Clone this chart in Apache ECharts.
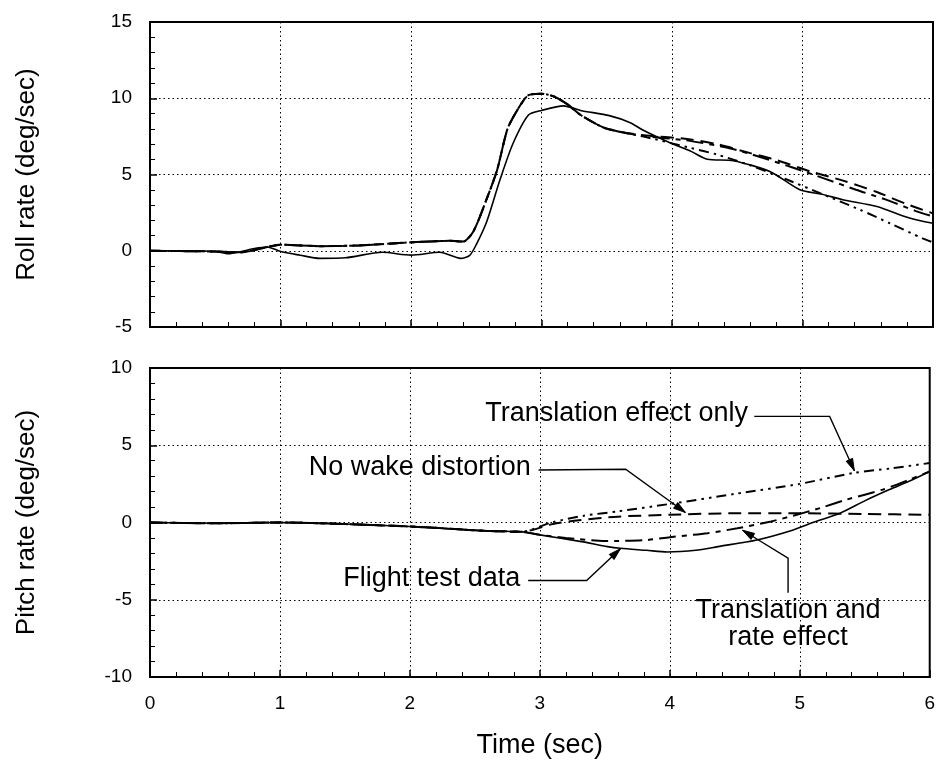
<!DOCTYPE html>
<html>
<head>
<meta charset="utf-8">
<script src="https://cdn.jsdelivr.net/npm/echarts@6/dist/echarts.min.js"></script>
<style>
  html, body { margin: 0; padding: 0; background: #fff; }
  #chart { width: 938px; height: 765px; }
</style>
</head>
<body>
<div id="chart"></div>
<script>
// ---- Roll rate (deg/sec) vs time (sec) ----
const rollFlightTime = [0, 0.3, 0.5, 0.6, 0.7, 0.8, 0.9, 1.0, 1.15, 1.3, 1.5, 1.78, 2.0, 2.22, 2.38, 2.45, 2.5, 2.58, 2.68, 2.78, 2.9, 3.0, 3.17, 3.3, 3.52, 3.68, 3.78, 3.98, 4.15, 4.27, 4.47, 4.75, 4.98, 5.15, 5.31, 5.57, 5.82, 6.0];
const rollFlight     = [0, 0, -0.05, -0.2, -0.05, 0.15, 0.25, -0.05, -0.29, -0.5, -0.46, -0.1, -0.29, -0.1, -0.5, -0.3, 0.4, 1.9, 4.6, 7.0, 8.9, 9.2, 9.5, 9.2, 8.86, 8.4, 7.9, 7.1, 6.5, 6.0, 5.9, 5.2, 4.0, 3.7, 3.35, 2.9, 2.15, 1.8];

const rollNoWakeTime = [0, 0.5, 0.7, 0.9, 1.0, 1.3, 1.6, 2.0, 2.3, 2.4, 2.48, 2.58, 2.66, 2.74, 2.82, 2.9, 3.0, 3.1, 3.2, 3.3, 3.47, 3.6, 3.8, 4.1, 4.34, 4.6, 4.8, 5.06, 5.31, 5.57, 5.8, 6.0];
const rollNoWake     = [0, -0.05, -0.1, 0.25, 0.4, 0.3, 0.35, 0.55, 0.65, 0.6, 1.3, 3.4, 5.3, 8.0, 9.3, 10.2, 10.3, 10.1, 9.6, 8.9, 8.1, 7.8, 7.55, 7.35, 7.0, 6.4, 5.95, 5.2, 4.6, 3.85, 3.05, 2.45];

const rollTransTime = [0, 0.5, 0.7, 0.9, 1.0, 1.3, 1.6, 2.0, 2.3, 2.4, 2.48, 2.58, 2.66, 2.74, 2.82, 2.9, 3.0, 3.1, 3.2, 3.3, 3.47, 3.6, 3.8, 4.14, 4.34, 4.6, 4.88, 5.13, 5.44, 5.67, 5.92, 6.0];
const rollTrans     = [0, -0.05, -0.1, 0.25, 0.4, 0.3, 0.35, 0.55, 0.65, 0.6, 1.3, 3.4, 5.3, 8.0, 9.3, 10.2, 10.3, 10.1, 9.6, 8.9, 8.1, 7.8, 7.45, 6.75, 6.32, 5.6, 4.67, 3.79, 2.69, 1.8, 0.81, 0.55];

const rollTransRateTime = [0, 0.5, 0.7, 0.9, 1.0, 1.3, 1.6, 2.0, 2.3, 2.4, 2.48, 2.58, 2.66, 2.74, 2.82, 2.9, 3.0, 3.1, 3.2, 3.3, 3.47, 3.6, 3.8, 4.1, 4.4, 4.6, 4.93, 5.18, 5.41, 5.64, 5.87, 6.0];
const rollTransRate     = [0, -0.05, -0.1, 0.25, 0.4, 0.3, 0.35, 0.55, 0.65, 0.6, 1.3, 3.4, 5.3, 8.0, 9.3, 10.2, 10.3, 10.1, 9.6, 8.9, 8.1, 7.8, 7.5, 7.25, 6.8, 6.35, 5.44, 4.7, 4.0, 3.35, 2.6, 2.25];

// ---- Pitch rate (deg/sec) vs time (sec) ----
const pitchFlightTime = [0, 0.5, 1.0, 1.5, 2.0, 2.3, 2.6, 2.86, 3.0, 3.32, 3.52, 3.62, 3.82, 3.98, 4.2, 4.37, 4.67, 4.95, 5.1, 5.31, 5.5, 5.69, 5.85, 6.0];
const pitchFlight     = [0, -0.05, 0, -0.1, -0.26, -0.4, -0.55, -0.6, -0.8, -1.24, -1.56, -1.67, -1.8, -1.91, -1.8, -1.56, -1.13, -0.48, 0, 0.6, 1.4, 2.13, 2.7, 3.3];

const pitchNoWakeTime = [0, 0.5, 1.0, 1.5, 2.0, 2.3, 2.6, 2.86, 3.1, 3.3, 3.6, 4.0, 4.5, 5.0, 5.5, 6.0];
const pitchNoWake     = [0, -0.05, 0, -0.1, -0.26, -0.4, -0.55, -0.6, -0.1, 0.15, 0.38, 0.5, 0.6, 0.6, 0.55, 0.5];

const pitchTransTime = [0, 0.5, 1.0, 1.5, 2.0, 2.3, 2.6, 2.86, 3.09, 3.34, 3.6, 4.0, 4.5, 5.0, 5.41, 5.7, 6.0];
const pitchTrans     = [0, -0.05, 0, -0.1, -0.26, -0.4, -0.55, -0.6, 0, 0.44, 0.72, 1.2, 1.85, 2.5, 3.2, 3.5, 3.85];

const pitchTransRateTime = [0, 0.5, 1.0, 1.5, 2.0, 2.3, 2.6, 2.86, 3.0, 3.2, 3.5, 3.8, 4.0, 4.29, 4.52, 4.78, 4.95, 5.16, 5.36, 5.64, 5.85, 6.0];
const pitchTransRate     = [0, -0.05, 0, -0.1, -0.26, -0.4, -0.55, -0.6, -0.8, -1.0, -1.2, -1.15, -0.95, -0.69, -0.37, 0.07, 0.44, 0.94, 1.48, 2.13, 2.8, 3.3];

// ---- Axis ticks ----
const timeTicks = [0, 6, 1];        // min, max, step
const rollTicks = [-5, 15, 5];
const pitchTicks = [-10, 10, 5];

// ---- Callout labels on the pitch panel ----
const noteTexts = ['Translation effect only', 'No wake distortion', 'Flight test data', 'Translation and\nrate effect'];

const FONT = '"Liberation Sans", Arial, Helvetica, sans-serif';
const pairs = (t, v) => t.map((x, i) => [x, v[i]]);

const styles = {
  flight:    { type: 'solid', width: 1.6 },
  noWake:    { type: [13, 7], width: 2 },
  trans:     { type: [10, 5, 2.5, 5, 2.5, 5], width: 2 },
  transRate: { type: [17, 6, 5, 6], width: 2 }
};

function lineSeries(name, data, style, idx) {
  return {
    name, type: 'line', xAxisIndex: idx, yAxisIndex: idx,
    data, showSymbol: false, smooth: 0.25, silent: true,
    lineStyle: { color: '#000', width: style.width, type: style.type },
    z: 3
  };
}

function xAxisDef(idx, showLabels) {
  return {
    type: 'value', gridIndex: idx, min: timeTicks[0], max: timeTicks[1], interval: timeTicks[2],
    axisLine: { show: true, onZero: false, lineStyle: { color: '#000', width: 2 } },
    axisTick: { show: true, inside: true, length: 7, lineStyle: { color: '#000', width: 1.5 } },
    minorTick: { show: true, splitNumber: 5, length: 5, lineStyle: { color: '#000', width: 1 } },
    splitLine: { show: true, lineStyle: { color: '#000', width: 1, type: [1.5, 3] } },
    axisLabel: { show: showLabels, color: '#000', fontSize: 19, fontFamily: FONT, margin: 17 },
    name: showLabels ? 'Time (sec)' : '',
    nameLocation: 'middle', nameGap: 55,
    nameTextStyle: { color: '#000', fontSize: 27, fontFamily: FONT }
  };
}

function yAxisDef(idx, ticks, title) {
  return {
    type: 'value', gridIndex: idx, min: ticks[0], max: ticks[1], interval: ticks[2],
    axisLine: { show: true, onZero: false, lineStyle: { color: '#000', width: 2 } },
    axisTick: { show: true, inside: true, length: 7, lineStyle: { color: '#000', width: 1.5 } },
    minorTick: { show: true, splitNumber: 5, length: 5, lineStyle: { color: '#000', width: 1 } },
    splitLine: { show: true, lineStyle: { color: '#000', width: 1, type: [1.5, 3] } },
    axisLabel: { color: '#000', fontSize: 19, fontFamily: FONT, margin: 18 },
    name: title, nameLocation: 'middle', nameGap: 110,
    nameTextStyle: { color: '#000', fontSize: 26, fontFamily: FONT }
  };
}

const chart = echarts.init(document.getElementById('chart'), null, { renderer: 'canvas' });

chart.setOption({
  backgroundColor: '#fff',
  animation: false,
  grid: [
    { left: 150, top: 22, width: 783, height: 305, show: true, borderColor: '#000', borderWidth: 2, backgroundColor: 'transparent' },
    { left: 150, top: 368, width: 783, height: 309, show: true, borderColor: '#000', borderWidth: 2, backgroundColor: 'transparent' }
  ],
  xAxis: [xAxisDef(0, false), xAxisDef(1, true)],
  yAxis: [yAxisDef(0, rollTicks, 'Roll rate (deg/sec)'), yAxisDef(1, pitchTicks, 'Pitch rate (deg/sec)')],
  series: [
    lineSeries('Roll flight test data', pairs(rollFlightTime, rollFlight), styles.flight, 0),
    lineSeries('Roll no wake distortion', pairs(rollNoWakeTime, rollNoWake), styles.noWake, 0),
    lineSeries('Roll translation effect only', pairs(rollTransTime, rollTrans), styles.trans, 0),
    lineSeries('Roll translation and rate effect', pairs(rollTransRateTime, rollTransRate), styles.transRate, 0),
    lineSeries('Pitch flight test data', pairs(pitchFlightTime, pitchFlight), styles.flight, 1),
    lineSeries('Pitch no wake distortion', pairs(pitchNoWakeTime, pitchNoWake), styles.noWake, 1),
    lineSeries('Pitch translation effect only', pairs(pitchTransTime, pitchTrans), styles.trans, 1),
    lineSeries('Pitch translation and rate effect', pairs(pitchTransRateTime, pitchTransRate), styles.transRate, 1)
  ]
});

// Callouts: text anchor and leader path (last point is the arrow tip), in pitch-panel data units
const callouts = [
  { text: noteTexts[0], at: [2.58, 7.07], align: 'left',   path: [[4.65, 6.87], [5.23, 6.87], [5.42, 3.35]] },
  { text: noteTexts[1], at: [2.93, 3.57], align: 'right',  path: [[2.99, 3.4], [3.66, 3.45], [4.12, 0.65]] },
  { text: noteTexts[2], at: [2.85, -3.6], align: 'right',  path: [[2.91, -3.75], [3.36, -3.75], [3.62, -1.7]] },
  { text: noteTexts[3], at: [4.91, -6.6], align: 'center', path: [[4.91, -4.55], [4.91, -2.3], [4.56, -0.5]] }
];

const toPx = p => chart.convertToPixel({ gridIndex: 1 }, p);
const graphics = [];
callouts.forEach(c => {
  const pos = toPx(c.at);
  graphics.push({
    type: 'text', x: pos[0], y: pos[1], z: 10, silent: true,
    style: { text: c.text, font: '27px ' + FONT, fill: '#000', align: c.align, verticalAlign: 'middle', lineHeight: 27 }
  });
  const pts = c.path.map(toPx);
  graphics.push({
    type: 'polyline', z: 10, silent: true,
    shape: { points: pts },
    style: { stroke: '#000', lineWidth: 1.4, fill: null }
  });
  // arrowhead at the final point
  const tip = pts[pts.length - 1], prev = pts[pts.length - 2];
  const dx = tip[0] - prev[0], dy = tip[1] - prev[1];
  const len = Math.hypot(dx, dy), ux = dx / len, uy = dy / len;
  const L = 12, W = 3.5;
  const bx = tip[0] - ux * L, by = tip[1] - uy * L;
  graphics.push({
    type: 'polygon', z: 10, silent: true,
    shape: { points: [tip, [bx - uy * W, by + ux * W], [bx + uy * W, by - ux * W]] },
    style: { fill: '#000', stroke: '#000', lineWidth: 1 }
  });
});
chart.setOption({ graphic: graphics });
</script>
</body>
</html>
